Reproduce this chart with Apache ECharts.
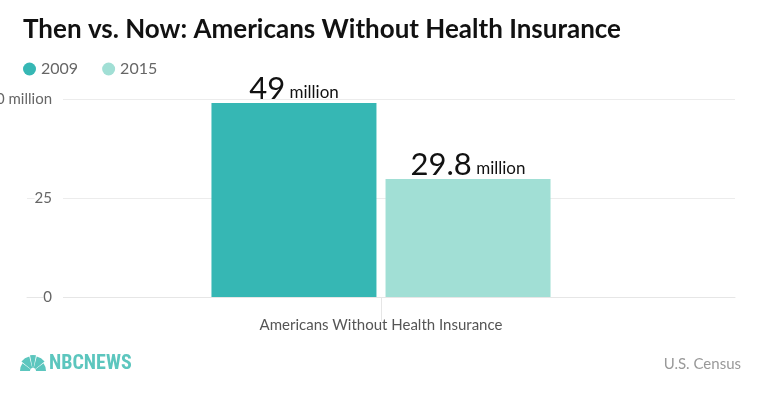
<!DOCTYPE html>
<html>
<head>
<meta charset="utf-8">
<script src="https://cdn.jsdelivr.net/npm/echarts@6/dist/echarts.min.js"></script>
<style>
  html, body { margin: 0; padding: 0; background: #fff; }
  #chart { width: 760px; height: 399px; }
</style>
</head>
<body>
<div id="chart"></div>
<script>
// data
var categories = ["Americans Without Health Insurance"];
var seriesNames = ["2009", "2015"];
var values2009 = [49];
var values2015 = [29.8];
var yTicks = [0, 25, 50];

var FONT = "Lato, 'Open Sans', sans-serif";
var colors = ["#36b7b4", "#a1dfd5"];

var chart = echarts.init(document.getElementById("chart"));

function barLabel() {
  return {
    show: true,
    position: "top",
    distance: -2,
    formatter: function (p) { return "{big|" + p.value + "}{small| million}"; },
    rich: {
      big: { fontFamily: FONT, fontSize: 31, color: "#111" },
      small: { fontFamily: FONT, fontSize: 17, color: "#111", padding: [6, 0, 0, 0] }
    }
  };
}

var option = {
  animation: false,
  textStyle: { fontFamily: FONT },
  title: {
    text: "Then vs. Now: Americans Without Health Insurance",
    left: 18,
    top: 12,
    textStyle: { fontFamily: FONT, fontSize: 26, fontWeight: "bold", color: "#111" }
  },
  legend: {
    data: seriesNames,
    left: 18,
    top: 56,
    icon: "circle",
    itemWidth: 13,
    itemHeight: 13,
    itemGap: 24,
    textStyle: { fontFamily: FONT, fontSize: 16, color: "#666" }
  },
  grid: { left: 27, right: 25, top: 99, bottom: 102, containLabel: false, outerBoundsMode: "none" },
  xAxis: {
    type: "category",
    data: categories,
    axisLine: { lineStyle: { color: "#e6e6e6" } },
    axisTick: { show: true, alignWithLabel: true, length: 24, lineStyle: { color: "#e6e6e6" } },
    axisLabel: { fontFamily: FONT, fontSize: 15, color: "#555", margin: 21 }
  },
  yAxis: {
    type: "value",
    min: 0,
    max: 50,
    interval: 25,
    axisLine: { show: false },
    axisTick: { show: false },
    splitLine: { lineStyle: { color: "#ececec" } },
    axisLabel: {
      fontFamily: FONT,
      fontSize: 15,
      color: "#666",
      margin: -36,
      backgroundColor: "#fff",
      padding: [4, 11, 0, 0],
      formatter: function (v) {
        if (yTicks.indexOf(v) < 0) return "";
        return v === yTicks[yTicks.length - 1] ? v + " million" : String(v);
      }
    }
  },
  series: [
    {
      name: seriesNames[0],
      type: "bar",
      data: values2009,
      barWidth: 165,
      barGap: "5.5%",
      itemStyle: { color: colors[0] },
      label: barLabel()
    },
    {
      name: seriesNames[1],
      type: "bar",
      data: values2015,
      barWidth: 165,
      itemStyle: { color: colors[1] },
      label: barLabel()
    }
  ],
  graphic: [
    // NBC peacock (rough) and wordmark
    {
      type: "group",
      left: 20,
      top: 354,
      children: [
        { type: "sector", shape: { cx: 13, cy: 17, r: 13, r0: 3, startAngle: Math.PI, endAngle: Math.PI * 1.2 }, style: { fill: "#5cc6be" } },
        { type: "sector", shape: { cx: 13, cy: 17, r: 15, r0: 3, startAngle: Math.PI * 1.22, endAngle: Math.PI * 1.42 }, style: { fill: "#5cc6be" } },
        { type: "sector", shape: { cx: 13, cy: 17, r: 16, r0: 3, startAngle: Math.PI * 1.44, endAngle: Math.PI * 1.56 }, style: { fill: "#5cc6be" } },
        { type: "sector", shape: { cx: 13, cy: 17, r: 15, r0: 3, startAngle: Math.PI * 1.58, endAngle: Math.PI * 1.78 }, style: { fill: "#5cc6be" } },
        { type: "sector", shape: { cx: 13, cy: 17, r: 13, r0: 3, startAngle: Math.PI * 1.8, endAngle: Math.PI * 2 }, style: { fill: "#5cc6be" } },
        {
          type: "text",
          x: 29,
          y: 0,
          style: { text: "NBCNEWS", fontFamily: "'Roboto Condensed', 'Liberation Sans Narrow', 'DejaVu Sans Condensed', sans-serif", fontWeight: "bold", fontSize: 20, fill: "#5cc6be" }
        }
      ]
    },
    {
      type: "text",
      right: 19,
      top: 357,
      style: { text: "U.S. Census", fontFamily: FONT, fontSize: 15, fill: "#999" }
    }
  ]
};

chart.setOption(option);
</script>
</body>
</html>
